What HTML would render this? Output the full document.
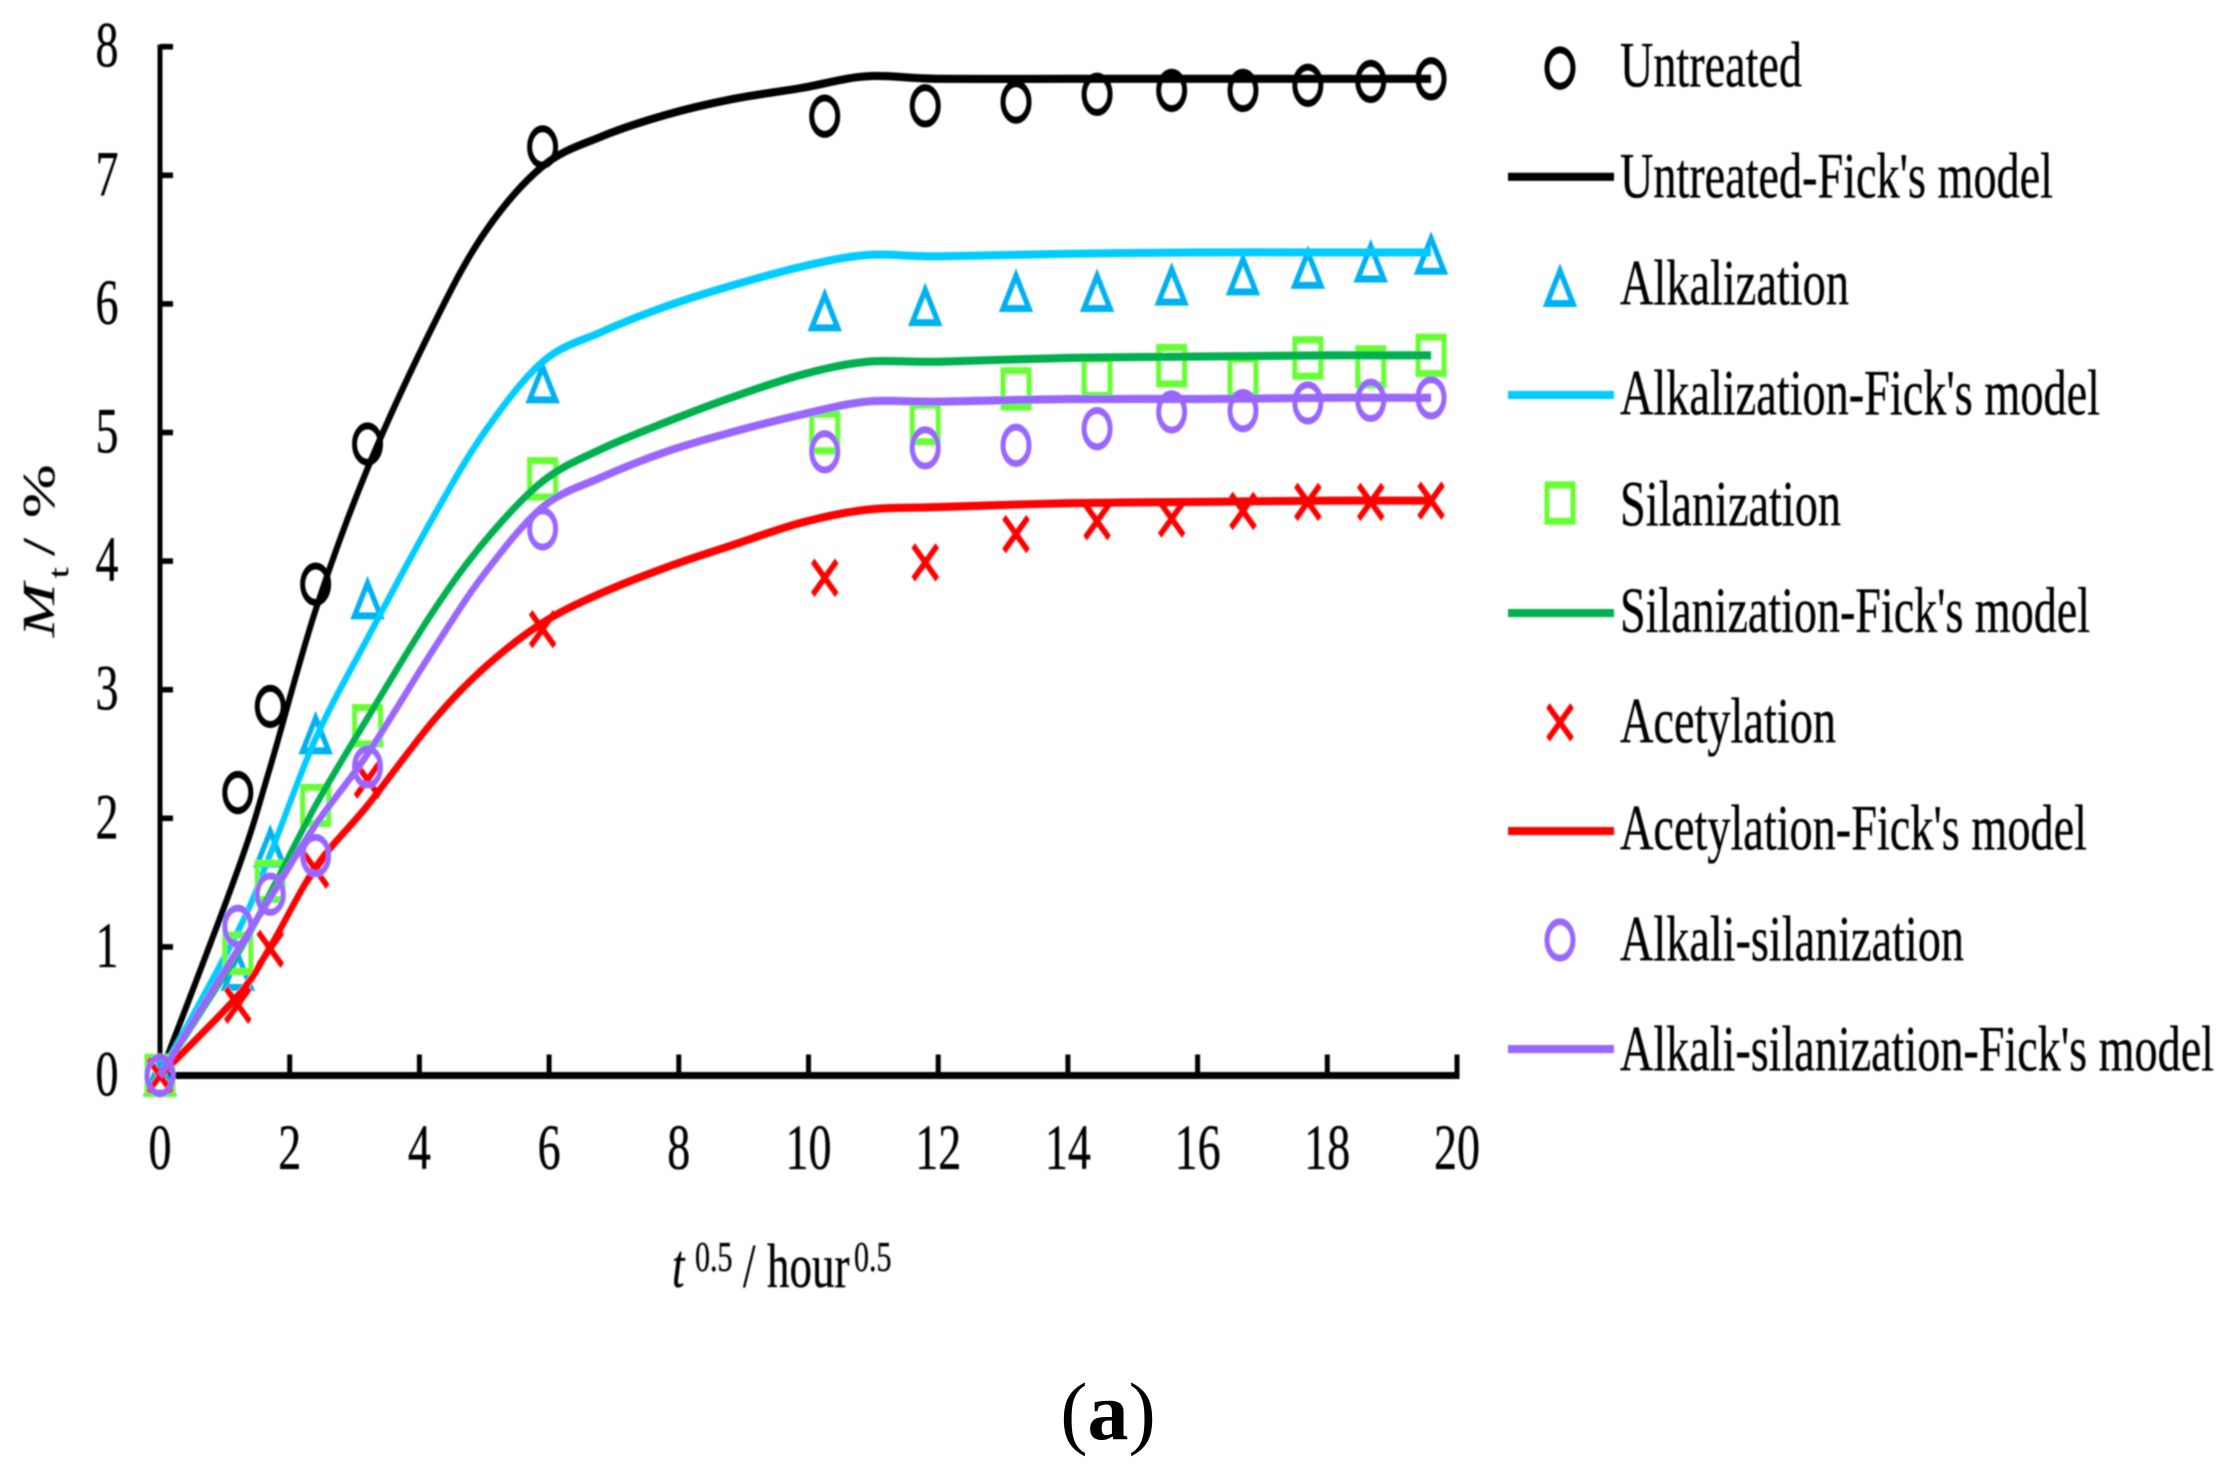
<!DOCTYPE html>
<html lang="en">
<head>
<meta charset="utf-8">
<title>Moisture uptake chart</title>
<style>
html,body{margin:0;padding:0;background:#fff;}
svg{display:block;}
text{font-family:"Liberation Serif",serif;fill:#000;}
#plot text{stroke:#000;stroke-width:0.25;}
</style>
</head>
<body>
<svg id="chart" xmlns="http://www.w3.org/2000/svg" width="2238" height="1475" viewBox="0 0 2238 1475">
  <defs>
    <filter id="soft" x="0" y="0" width="2238" height="1475" filterUnits="userSpaceOnUse"><feGaussianBlur stdDeviation="0.9"/></filter>
  </defs>
  <rect width="2238" height="1475" fill="#fff"/>
  <g id="stage" filter="url(#soft)">
    <g id="plot" transform="scale(1,1.4)">
      <g id="axes"></g>
      <g id="series"></g>

      <text transform="translate(54,455) rotate(-90)" font-size="46"><tspan x="0" font-style="italic">M</tspan><tspan x="42" dy="14" font-size="28">t</tspan><tspan x="58" dy="-14">/</tspan><tspan x="85">%</tspan></text>

      <text y="919.3" font-size="45"><tspan x="672" font-style="italic">t</tspan><tspan x="695" dy="-11.5" font-size="30">0.5</tspan><tspan x="743" dy="11.5">/</tspan><tspan x="767">hour</tspan><tspan x="854" dy="-11.5" font-size="30">0.5</tspan></text>

      <g>
        <ellipse cx="1560" cy="48.6" rx="13" ry="13" fill="none" stroke="#000" stroke-width="5"/>
        <line x1="1508" x2="1614" y1="126.3" y2="126.3" stroke="#000" stroke-width="5.8"/>
        <path d="M1560 193.3L1573 216.8L1547 216.8Z" fill="none" stroke="#00B0F0" stroke-width="5"/>
        <line x1="1508" x2="1614" y1="282.1" y2="282.1" stroke="#00CCFF" stroke-width="5.8"/>
        <rect x="1547" y="346.3" width="26" height="26" fill="none" stroke="#66FF33" stroke-width="5"/>
        <line x1="1508" x2="1614" y1="437.9" y2="437.9" stroke="#00B050" stroke-width="5.8"/>
        <path d="M1548 504L1572 528M1572 504L1548 528" fill="none" stroke="#FF0000" stroke-width="5"/>
        <line x1="1508" x2="1614" y1="593.6" y2="593.6" stroke="#FF0000" stroke-width="5.8"/>
        <ellipse cx="1560" cy="671.4" rx="13" ry="13" fill="none" stroke="#9966FF" stroke-width="5"/>
        <line x1="1508" x2="1614" y1="749.3" y2="749.3" stroke="#9966FF" stroke-width="5.8"/>

        <text x="1620" y="61.9" font-size="46" textLength="182" lengthAdjust="spacingAndGlyphs">Untreated</text>
        <text x="1620" y="140.9" font-size="46" textLength="433" lengthAdjust="spacingAndGlyphs">Untreated-Fick's model</text>
        <text x="1620" y="217.6" font-size="46" textLength="229" lengthAdjust="spacingAndGlyphs">Alkalization</text>
        <text x="1620" y="296.2" font-size="46" textLength="480" lengthAdjust="spacingAndGlyphs">Alkalization-Fick's model</text>
        <text x="1620" y="375.3" font-size="46" textLength="221" lengthAdjust="spacingAndGlyphs">Silanization</text>
        <text x="1620" y="451.4" font-size="46" textLength="470" lengthAdjust="spacingAndGlyphs">Silanization-Fick's model</text>
        <text x="1620" y="530.5" font-size="46" textLength="216" lengthAdjust="spacingAndGlyphs">Acetylation</text>
        <text x="1620" y="606.7" font-size="46" textLength="467" lengthAdjust="spacingAndGlyphs">Acetylation-Fick's model</text>
        <text x="1620" y="686" font-size="46" textLength="344" lengthAdjust="spacingAndGlyphs">Alkali-silanization</text>
        <text x="1620" y="764.8" font-size="46" textLength="594" lengthAdjust="spacingAndGlyphs">Alkali-silanization-Fick's model</text>
      </g>
    </g>
  </g>
  <text x="1108" y="1439" font-size="82" text-anchor="middle">(<tspan font-weight="bold">a</tspan>)</text>
</svg>
<script>
var xTicks = [0, 2, 4, 6, 8, 10, 12, 14, 16, 18, 20];
var yTicks = [0, 1, 2, 3, 4, 5, 6, 7, 8];

var times = [0, 1.2, 1.7, 2.4, 3.2, 5.9, 10.25, 11.8, 13.2, 14.45, 15.6, 16.7, 17.7, 18.67, 19.6];
var untreated = [0, 2.2, 2.87, 3.82, 4.91, 7.22, 7.46, 7.54, 7.57, 7.63, 7.66, 7.66, 7.70, 7.73, 7.75];
var alkalization = [0, 0.82, 1.78, 2.66, 3.71, 5.39, 5.95, 5.99, 6.10, 6.10, 6.15, 6.23, 6.28, 6.33, 6.39];
var silanization = [0, 0.95, 1.51, 2.10, 2.72, 4.64, 5.0, 5.07, 5.34, 5.43, 5.52, 5.43, 5.58, 5.51, 5.60];
var acetylation = [0, 0.55, 0.985, 1.60, 2.30, 3.47, 3.87, 3.99, 4.21, 4.31, 4.33, 4.39, 4.46, 4.46, 4.47];
var alkaliSilanization = [0, 1.16, 1.41, 1.71, 2.40, 4.25, 4.85, 4.88, 4.90, 5.03, 5.16, 5.17, 5.23, 5.25, 5.27];

var modelTimes = [0, 1.2, 1.7, 2.4, 3.2, 4.2, 5, 5.9, 6.8, 7.8, 8.8, 9.9, 10.9, 12, 14, 16, 18, 19.6];
var untreatedModel = [0, 1.6, 2.4, 3.62, 4.72, 5.82, 6.55, 7.07, 7.3, 7.47, 7.59, 7.68, 7.77, 7.75, 7.75, 7.75, 7.75, 7.75];
var alkalizationModel = [0, 1.12, 1.72, 2.62, 3.4, 4.33, 5.0, 5.55, 5.78, 5.98, 6.14, 6.29, 6.38, 6.37, 6.39, 6.40, 6.40, 6.40];
var silanizationModel = [0, 0.95, 1.42, 2.1, 2.78, 3.6, 4.15, 4.62, 4.87, 5.08, 5.27, 5.45, 5.55, 5.55, 5.58, 5.59, 5.60, 5.60];
var acetylationModel = [0, 0.62, 1.0, 1.62, 2.1, 2.75, 3.17, 3.52, 3.75, 3.95, 4.12, 4.30, 4.40, 4.42, 4.45, 4.46, 4.47, 4.47];
var alkaliSilanizationModel = [0, 0.98, 1.38, 1.95, 2.5, 3.3, 3.9, 4.42, 4.65, 4.85, 5.0, 5.14, 5.24, 5.24, 5.26, 5.26, 5.27, 5.27];

var SVGNS = 'http://www.w3.org/2000/svg';
var STRETCH = 1.4;
function xScale(v) { return 160 + v * 64.85; }
function yScale(v) { return (1075.5 - v * 128.6) / STRETCH; }

function make(tag, attrs, parent) {
  var el = document.createElementNS(SVGNS, tag);
  for (var k in attrs) { el.setAttribute(k, attrs[k]); }
  parent.appendChild(el);
  return el;
}

function smoothPath(xs, ys) {
  var pts = xs.map(function (x, i) { return [xScale(x), yScale(ys[i])]; });
  var d = 'M' + pts[0][0].toFixed(2) + ' ' + pts[0][1].toFixed(2);
  for (var i = 0; i < pts.length - 1; i++) {
    var p0 = pts[Math.max(0, i - 1)], p1 = pts[i], p2 = pts[i + 1], p3 = pts[Math.min(pts.length - 1, i + 2)];
    var c1x = p1[0] + (p2[0] - p0[0]) / 6, c1y = p1[1] + (p2[1] - p0[1]) / 6;
    var c2x = p2[0] - (p3[0] - p1[0]) / 6, c2y = p2[1] - (p3[1] - p1[1]) / 6;
    d += 'C' + c1x.toFixed(2) + ' ' + c1y.toFixed(2) + ' ' + c2x.toFixed(2) + ' ' + c2y.toFixed(2) + ' ' + p2[0].toFixed(2) + ' ' + p2[1].toFixed(2);
  }
  return d;
}

function markerPath(kind, cx, cy) {
  if (kind === 'triangle') {
    return 'M' + cx + ' ' + (cy - 11) + 'L' + (cx + 13) + ' ' + (cy + 12.5) + 'L' + (cx - 13) + ' ' + (cy + 12.5) + 'Z';
  }
  if (kind === 'square') {
    return 'M' + (cx - 13) + ' ' + (cy - 13) + 'h26v26h-26Z';
  }
  if (kind === 'cross') {
    return 'M' + (cx - 12) + ' ' + (cy - 12) + 'L' + (cx + 12) + ' ' + (cy + 12) + 'M' + (cx + 12) + ' ' + (cy - 12) + 'L' + (cx - 12) + ' ' + (cy + 12);
  }
  return 'M' + (cx - 13) + ' ' + cy + 'a13 13 0 1 0 26 0a13 13 0 1 0 -26 0Z';
}

function drawAxes() {
  var axes = document.getElementById('axes');
  var yLine = make('line', { x1: xScale(0), x2: xScale(0), y1: yScale(8) - 1.5, y2: yScale(0) + 2.5, stroke: '#000', 'stroke-width': 5 }, axes);
  
  
  var xLine = make('line', { x1: xScale(0), x2: xScale(20) + 2.5, y1: yScale(0), y2: yScale(0), stroke: '#000', 'stroke-width': 5 }, axes);
  
  

  yTicks.forEach(function (v) {
    var t = make('line', { x1: xScale(0), x2: xScale(0) + 13, y1: yScale(v), y2: yScale(v), stroke: '#000', 'stroke-width': 4 }, axes);
    
    
    var l = make('text', { x: 107, y: yScale(v) + 20 / STRETCH, 'font-size': 46, 'text-anchor': 'middle' }, axes);
    
    
    l.textContent = String(v);
  });

  xTicks.forEach(function (v) {
    if (v > 0) {
      var t = make('line', { x1: xScale(v), x2: xScale(v), y1: yScale(0), y2: yScale(0) - 15, stroke: '#000', 'stroke-width': 5 }, axes);
      
      
    }
    var l = make('text', { x: xScale(v), y: 1169 / STRETCH, 'font-size': 46, 'text-anchor': 'middle' }, axes);
    
    
    l.textContent = String(v);
  });
}

function drawMarkers(name, values, kind, color) {
  var layer = document.getElementById('series');
  var g = make('g', {}, layer);
  
  
  values.forEach(function (v, i) {
    var m = make('path', { d: markerPath(kind, xScale(times[i]), yScale(v)), fill: 'none', stroke: color, 'stroke-width': 5 }, g);
    
    
  });
}

function drawModel(name, values, color) {
  var layer = document.getElementById('series');
  var p = make('path', { d: smoothPath(modelTimes, values), fill: 'none', stroke: color, 'stroke-width': 5.8 }, layer);
  
  
}

drawAxes();
drawMarkers('untreated', untreated, 'circle', '#000000');
drawModel('untreated', untreatedModel, '#000000');
drawMarkers('alkalization', alkalization, 'triangle', '#00B0F0');
drawModel('alkalization', alkalizationModel, '#00CCFF');
drawMarkers('silanization', silanization, 'square', '#66FF33');
drawModel('silanization', silanizationModel, '#00B050');
drawMarkers('acetylation', acetylation, 'cross', '#FF0000');
drawModel('acetylation', acetylationModel, '#FF0000');
drawMarkers('alkali-silanization', alkaliSilanization, 'circle', '#9966FF');
drawModel('alkali-silanization', alkaliSilanizationModel, '#9966FF');
</script>
</body>
</html>
